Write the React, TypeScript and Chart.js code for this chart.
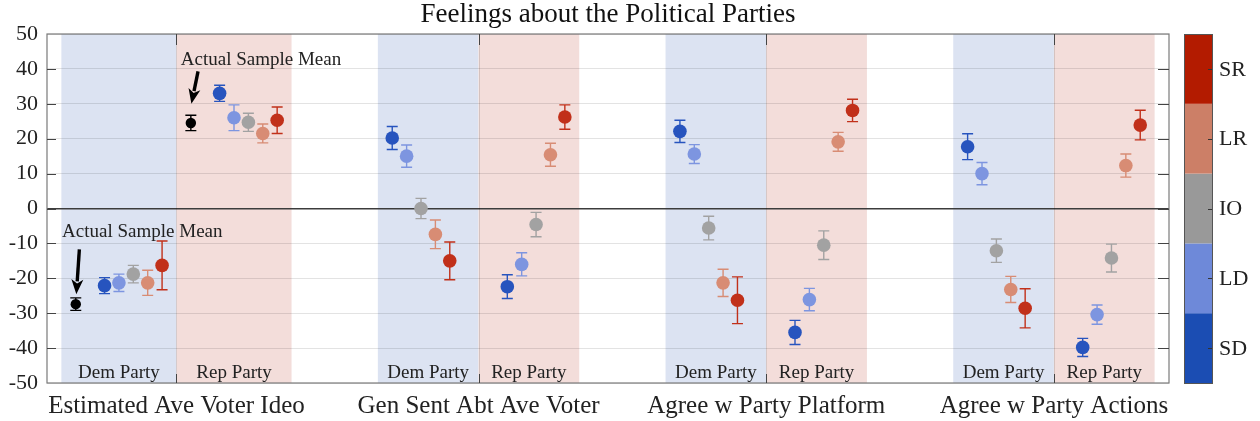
import React, { useEffect, useRef } from "react";
import Chart from "chart.js/auto";

// ---------- data ----------
const titleText = "Feelings about the Political Parties";
const groupLabels = ["Estimated Ave Voter Ideo", "Gen Sent Abt Ave Voter", "Agree w Party Platform", "Agree w Party Actions"];
const groupCenters = [8, 29, 49, 69];
const demBands = [[0, 8], [22, 29], [42, 49], [62, 69]];
const repBands = [[8, 16], [29, 36], [49, 56], [69, 76]];
const bandLabelDem = "Dem Party";
const bandLabelRep = "Rep Party";

const seriesNames = ["SD", "LD", "IO", "LR", "SR"];

// order: G1 Dem, G1 Rep, G2 Dem, G2 Rep, G3 Dem, G3 Rep, G4 Dem, G4 Rep
const sdX = [3, 11, 23, 31, 43, 51, 63, 71];
const ldX = [4, 12, 24, 32, 44, 52, 64, 72];
const ioX = [5, 13, 25, 33, 45, 53, 65, 73];
const lrX = [6, 14, 26, 34, 46, 54, 66, 74];
const srX = [7, 15, 27, 35, 47, 55, 67, 75];

const sdVals = [-22.1, 33.0, 20.2, -22.4, 22.1, -35.5, 17.7, -39.8];
const sdErr = [2.3, 2.3, 3.3, 3.4, 3.2, 3.45, 3.7, 2.6];
const ldVals = [-21.3, 26.0, 15.0, -16.0, 15.6, -26.1, 10.0, -30.4];
const ldErr = [2.5, 3.7, 3.2, 3.3, 2.7, 3.2, 3.2, 2.75];
const ioVals = [-18.8, 24.7, 0.0, -4.6, -5.6, -10.5, -12.1, -14.2];
const ioErr = [2.5, 2.6, 2.9, 3.5, 3.4, 4.1, 3.35, 4.0];
const lrVals = [-21.3, 21.5, -7.4, 15.4, -21.3, 19.1, -23.2, 12.3];
const lrErr = [3.6, 2.7, 4.1, 3.3, 3.9, 2.7, 3.75, 3.3];
const srVals = [-16.3, 25.3, -15.0, 26.2, -26.3, 28.1, -28.6, 23.9];
const srErr = [7.0, 3.8, 5.4, 3.5, 6.7, 3.2, 5.6, 4.25];

const sampleX = [1, 9];
const sampleVals = [-27.4, 24.5];
const sampleErr = [1.8, 2.2];

const annoText = "Actual Sample Mean";
const annoTextPos = [[0.05, -6.8], [8.3, 42.5]];
const annoArrowFrom = [[1.25, -11.7], [9.5, 39.3]];
const annoArrowTo = [[1.04, -24.6], [9.04, 30.0]];

const yTicks = [-50, -40, -30, -20, -10, 0, 10, 20, 30, 40, 50];

// ---------- styles ----------
const pointColors = ["#2754be", "#7d95e0", "#a2a2a2", "#d88c74", "#c1301a"];
const barColors = ["#1b4db3", "#6e89d9", "#999999", "#cc7f67", "#b31b00"];
const SERIF = "'Liberation Serif', 'Times New Roman', serif";

const W = 1260;
const H = 421;

function pts(xs: number[], ys: number[]) {
  return xs.map((x, i) => ({ x, y: ys[i] }));
}

export default function App() {
  const ref = useRef<HTMLCanvasElement | null>(null);

  useEffect(() => {
    document.body.style.margin = "0";
    const canvas = ref.current;
    if (!canvas) return;

    const xs = [sdX, ldX, ioX, lrX, srX];
    const vs = [sdVals, ldVals, ioVals, lrVals, srVals];
    const es = [sdErr, ldErr, ioErr, lrErr, srErr];

    const datasets: any[] = seriesNames.map((name, i) => ({
      label: name,
      data: pts(xs[i], vs[i]),
      errs: es[i],
      errColor: pointColors[i],
      backgroundColor: pointColors[i],
      borderWidth: 0,
      pointRadius: 6.8,
    }));
    datasets.push({
      label: "Sample",
      data: pts(sampleX, sampleVals),
      errs: sampleErr,
      errColor: "#000000",
      backgroundColor: "#000000",
      borderWidth: 0,
      pointRadius: 5.2,
    });

    const decor = {
      id: "decor",
      beforeDraw(chart: any) {
        const { ctx, chartArea: a, scales } = chart;
        const x = scales.x;
        ctx.save();
        const fillBand = (b: number[], color: string) => {
          const x0 = x.getPixelForValue(b[0]);
          const x1 = x.getPixelForValue(b[1]);
          ctx.fillStyle = color;
          ctx.fillRect(x0, a.top, x1 - x0, a.bottom - a.top);
        };
        demBands.forEach((b) => fillBand(b, "rgb(220,227,242)"));
        repBands.forEach((b) => fillBand(b, "rgb(243,221,218)"));
        ctx.restore();
      },
      beforeDatasetsDraw(chart: any) {
        const { ctx, scales } = chart;
        const y = scales.y;
        ctx.save();
        ctx.strokeStyle = "rgba(0,0,0,0.12)";
        ctx.lineWidth = 1;
        groupCenters.forEach((g) => {
          const px = Math.round(scales.x.getPixelForValue(g)) + 0.5;
          ctx.beginPath();
          ctx.moveTo(px, chart.chartArea.top);
          ctx.lineTo(px, chart.chartArea.bottom);
          ctx.stroke();
        });
        chart.data.datasets.forEach((ds: any, di: number) => {
          const meta = chart.getDatasetMeta(di);
          ctx.strokeStyle = ds.errColor;
          ctx.lineWidth = 1.4;
          meta.data.forEach((el: any, i: number) => {
            const v = ds.data[i].y;
            const e = ds.errs[i];
            const yt = y.getPixelForValue(v + e);
            const yb = y.getPixelForValue(v - e);
            const cx = el.x;
            const cap = 5.5;
            ctx.beginPath();
            ctx.moveTo(cx, yt);
            ctx.lineTo(cx, yb);
            ctx.moveTo(cx - cap, yt);
            ctx.lineTo(cx + cap, yt);
            ctx.moveTo(cx - cap, yb);
            ctx.lineTo(cx + cap, yb);
            ctx.stroke();
          });
        });
        ctx.restore();
      },
      afterDraw(chart: any) {
        const { ctx, chartArea: a, scales } = chart;
        const x = scales.x;
        const y = scales.y;
        ctx.save();

        // frame
        ctx.strokeStyle = "#7a7a7a";
        ctx.lineWidth = 1.2;
        ctx.strokeRect(a.left, a.top, a.right - a.left, a.bottom - a.top);

        // inner ticks on left/right
        ctx.strokeStyle = "#444";
        ctx.lineWidth = 1;
        yTicks.forEach((t) => {
          if (t === -50 || t === 50) return;
          const py = Math.round(y.getPixelForValue(t)) + 0.5;
          ctx.beginPath();
          ctx.moveTo(a.left, py);
          ctx.lineTo(a.left + 9, py);
          ctx.moveTo(a.right, py);
          ctx.lineTo(a.right - 11, py);
          ctx.stroke();
        });
        groupCenters.forEach((g) => {
          const px = Math.round(x.getPixelForValue(g)) + 0.5;
          ctx.beginPath();
          ctx.moveTo(px, a.top);
          ctx.lineTo(px, a.top + 11);
          ctx.moveTo(px, a.bottom);
          ctx.lineTo(px, a.bottom - 9);
          ctx.stroke();
        });

        // band labels
        ctx.fillStyle = "#222";
        ctx.font = `19px ${SERIF}`;
        ctx.textAlign = "center";
        ctx.textBaseline = "middle";
        const labY = a.bottom - 10;
        demBands.forEach((b) => {
          ctx.fillText(bandLabelDem, (x.getPixelForValue(b[0]) + x.getPixelForValue(b[1])) / 2, labY);
        });
        repBands.forEach((b) => {
          ctx.fillText(bandLabelRep, (x.getPixelForValue(b[0]) + x.getPixelForValue(b[1])) / 2, labY);
        });

        // annotations
        ctx.font = `19px ${SERIF}`;
        ctx.textAlign = "left";
        annoTextPos.forEach((p) => {
          ctx.fillText(annoText, x.getPixelForValue(p[0]), y.getPixelForValue(p[1]));
        });
        annoArrowFrom.forEach((f, i) => {
          const t = annoArrowTo[i];
          const x0 = x.getPixelForValue(f[0]);
          const y0 = y.getPixelForValue(f[1]);
          const x1 = x.getPixelForValue(t[0]);
          const y1 = y.getPixelForValue(t[1]);
          const ang = Math.atan2(y1 - y0, x1 - x0);
          const hl = 15;
          const hw = 6;
          const bx = x1 - hl * Math.cos(ang);
          const by = y1 - hl * Math.sin(ang);
          ctx.strokeStyle = "#000";
          ctx.lineWidth = 3.4;
          ctx.beginPath();
          ctx.moveTo(x0, y0);
          ctx.lineTo(bx + 2 * Math.cos(ang), by + 2 * Math.sin(ang));
          ctx.stroke();
          ctx.fillStyle = "#000";
          ctx.beginPath();
          ctx.moveTo(x1, y1);
          ctx.lineTo(bx + hw * Math.sin(ang), by - hw * Math.cos(ang));
          ctx.lineTo(bx + 4 * Math.cos(ang), by + 4 * Math.sin(ang));
          ctx.lineTo(bx - hw * Math.sin(ang), by + hw * Math.cos(ang));
          ctx.closePath();
          ctx.fill();
        });

        // title
        ctx.fillStyle = "#111";
        ctx.font = `27px ${SERIF}`;
        ctx.textAlign = "center";
        ctx.textBaseline = "middle";
        ctx.fillText(titleText, (a.left + a.right) / 2, 15);

        // colorbar
        const cbL = a.right + 15;
        const cbR = cbL + 28;
        const n = barColors.length;
        const segH = (a.bottom - a.top) / n;
        for (let i = 0; i < n; i++) {
          const top = a.bottom - (i + 1) * segH;
          ctx.fillStyle = barColors[i];
          ctx.fillRect(cbL, top, cbR - cbL, segH);
        }
        ctx.strokeStyle = "#555";
        ctx.lineWidth = 1;
        ctx.strokeRect(cbL + 0.5, a.top + 0.5, cbR - cbL, a.bottom - a.top);
        ctx.font = `22px ${SERIF}`;
        ctx.textAlign = "left";
        ctx.fillStyle = "#222";
        for (let i = 0; i < n; i++) {
          const cy = a.bottom - (i + 0.5) * segH;
          ctx.strokeStyle = "#333";
          ctx.beginPath();
          ctx.moveTo(cbR - 4, Math.round(cy) + 0.5);
          ctx.lineTo(cbR, Math.round(cy) + 0.5);
          ctx.stroke();
          ctx.fillText(seriesNames[i], cbR + 7, cy + 1);
        }
        ctx.restore();
      },
    };

    const chart = new Chart(canvas, {
      type: "scatter",
      data: { datasets },
      options: {
        animation: false,
        responsive: true,
        maintainAspectRatio: false,
        events: [],
        layout: { padding: { top: 34, right: 91, left: 0, bottom: 0 } },
        plugins: {
          legend: { display: false },
          tooltip: { enabled: false },
          title: { display: false },
        },
        scales: {
          x: {
            type: "linear",
            min: -1,
            max: 77,
            afterFit: (s: any) => {
              s.height = 38;
            },
            afterBuildTicks: (s: any) => {
              s.ticks = groupCenters.map((v) => ({ value: v }));
            },
            grid: { display: false, drawTicks: false },
            border: { display: false },
            ticks: {
              autoSkip: false,
              maxRotation: 0,
              padding: 8,
              color: "#222",
              font: { family: SERIF, size: 25 },
              callback: (v: any) => groupLabels[groupCenters.indexOf(Number(v))] ?? "",
            },
          },
          y: {
            type: "linear",
            min: -50,
            max: 50,
            afterFit: (s: any) => {
              s.width = 47;
            },
            afterBuildTicks: (s: any) => {
              s.ticks = yTicks.map((v) => ({ value: v }));
            },
            grid: {
              drawTicks: false,
              color: (c: any) => (c.tick && c.tick.value === 0 ? "#3c3c3c" : "rgba(0,0,0,0.11)"),
              lineWidth: (c: any) => (c.tick && c.tick.value === 0 ? 1.6 : 1),
            },
            border: { display: false },
            ticks: {
              padding: 9,
              color: "#222",
              font: { family: SERIF, size: 22 },
              callback: (v: any) => String(v),
            },
          },
        },
      } as any,
      plugins: [decor],
    });

    return () => chart.destroy();
  }, []);

  return (
    <div style={{ position: "fixed", left: 0, top: 0, width: W, height: H, background: "#fff" }}>
      <canvas ref={ref} />
    </div>
  );
}
